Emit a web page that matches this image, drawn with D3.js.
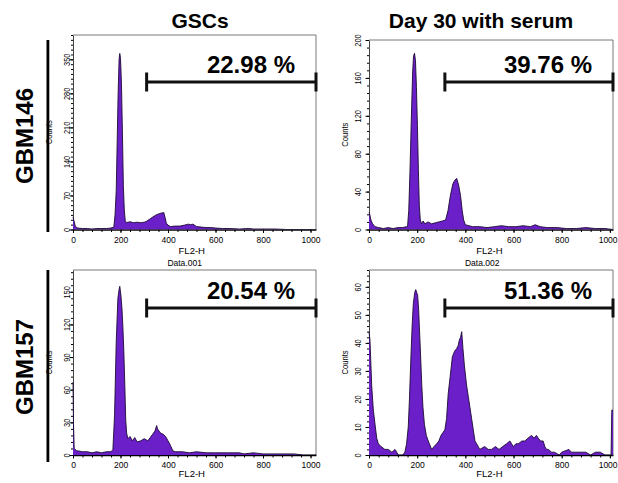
<!DOCTYPE html>
<html>
<head>
<meta charset="utf-8">
<script src="https://cdn.jsdelivr.net/npm/d3@7"></script>
<style>
  body { margin: 0; background: #fff; }
  svg { display: block; font-family: "Liberation Sans", Arial, sans-serif; }
</style>
</head>
<body>
<svg id="chart" width="618" height="483"></svg>
<script>

/////////////////////////////////
// DATA
//////////////////////////////////

var columnTitles = ["GSCs", "Day 30 with serum"];
var rowLabels = ["GBM146", "GBM157"];
var sampleNames = ["Data.001", "Data.002"];
var gatePercents = ["22.98 %", "39.76 %", "20.54 %", "51.36 %"];
var gateStartChannel = [310, 315, 310, 315];

var xTicks = [0, 200, 400, 600, 800, 1000];
var yTicks146Gsc = [0, 70, 140, 210, 280, 350];
var yTicks146Serum = [0, 40, 80, 120, 160, 200];
var yTicks157Gsc = [0, 30, 60, 90, 120, 150];
var yTicks157Serum = [0, 10, 20, 30, 40, 50, 60];
var yMax = [400, 200, 170, 66];

// GBM146 - GSCs
var gbm146GscChannel = [0, 4, 10, 20, 40, 60, 80, 100, 120, 140, 160, 172, 177, 182, 186, 190, 194, 197, 200, 204, 208, 212, 216, 220, 225, 240, 255, 270, 285, 300, 310, 325, 337, 350, 365, 375, 382, 388, 393, 400, 410, 430, 450, 470, 485, 495, 505, 520, 540, 560, 580, 600, 630, 660, 700, 740, 760, 800, 850, 900, 1023];
var gbm146GscCounts = [26, 18, 6, 3, 2, 2, 1, 2, 2, 2, 3, 5, 30, 80, 180, 280, 350, 362, 352, 300, 200, 90, 40, 18, 14, 16, 14, 15, 14, 15, 17, 22, 26, 30, 33, 34, 35, 24, 13, 9, 6, 7, 7, 9, 11, 10, 11, 6, 5, 4, 4, 3, 2, 2, 1, 2, 1, 1, 1, 0, 0];

// GBM146 - Day 30 with serum
var gbm146SerumChannel = [0, 3, 8, 15, 25, 40, 60, 80, 100, 120, 140, 155, 160, 165, 170, 175, 181, 185, 189, 193, 197, 201, 205, 209, 213, 218, 225, 232, 245, 260, 275, 290, 305, 318, 328, 338, 348, 356, 364, 372, 380, 387, 393, 400, 430, 460, 490, 520, 550, 580, 610, 640, 670, 690, 710, 740, 780, 820, 860, 900, 940, 980, 1013];
var gbm146SerumCounts = [18, 16, 10, 6, 3, 2, 1, 2, 1, 2, 2, 3, 3, 20, 60, 110, 165, 183, 186, 178, 150, 110, 63, 25, 10, 6, 9, 6, 8, 6, 7, 8, 9, 10, 20, 36, 48, 52, 54, 47, 36, 20, 10, 5, 3, 3, 2, 3, 4, 3, 3, 4, 3, 5, 3, 2, 2, 1, 1, 2, 1, 1, 0];

// GBM157 - GSCs
var gbm157GscChannel = [0, 2, 5, 15, 40, 60, 80, 100, 120, 140, 160, 168, 175, 182, 189, 194, 197, 202, 206, 210, 214, 218, 222, 226, 231, 240, 250, 260, 270, 285, 300, 315, 325, 335, 345, 352, 356, 362, 370, 380, 390, 400, 410, 420, 430, 460, 490, 520, 560, 600, 650, 700, 720, 760, 800, 850, 880, 930, 970, 1023];
var gbm157GscCounts = [67, 30, 6, 4, 3, 3, 2, 3, 2, 3, 3, 5, 37, 104, 144, 152, 155, 146, 135, 118, 95, 65, 32, 20, 15, 17, 13, 16, 12, 13, 15, 13, 16, 19, 22, 27, 24, 22, 20, 19, 17, 13, 9, 4, 3, 3, 2, 3, 2, 2, 2, 2, 1, 2, 1, 1, 1, 1, 0, 0];

// GBM157 - Day 30 with serum
var gbm157SerumChannel = [0, 4, 8, 11, 18, 25, 32, 39, 50, 66, 80, 95, 108, 115, 122, 140, 149, 156, 163, 168, 174, 179, 184, 190, 194, 198, 202, 206, 209, 214, 219, 224, 230, 238, 246, 260, 270, 281, 290, 299, 307, 315, 322, 329, 337, 346, 355, 364, 370, 375, 380, 385, 390, 396, 405, 412, 419, 426, 433, 440, 447, 460, 480, 495, 509, 525, 540, 555, 571, 585, 592, 599, 610, 620, 635, 647, 660, 675, 685, 695, 703, 712, 723, 730, 737, 745, 758, 770, 790, 800, 830, 840, 860, 880, 900, 920, 940, 960, 980, 1005, 1008, 1013];
var gbm157SerumCounts = [44, 41, 32, 25, 16, 11, 6, 4, 3, 2, 2, 1, 2, 1, 0, 0, 1, 4, 10, 20, 35, 46, 54, 58, 59, 58, 57, 52, 46, 36, 25, 17, 11, 7, 5, 2, 3, 4, 5, 7, 8, 9, 13, 22, 28, 35, 37, 38, 39, 41, 42, 44, 38, 32, 25, 21, 17, 13, 9, 5, 4, 2, 3, 2, 2, 3, 2, 3, 4, 5, 4, 3, 4, 4, 5, 5, 6, 7, 6, 7, 6, 5, 5, 3, 2, 2, 1, 1, 0, 1, 2, 1, 1, 1, 1, 0, 1, 1, 0, 0, 16, 16];


/////////////////////////////////
// LAYOUT
//////////////////////////////////

var svg = d3.select("#chart");

var colLeft = [73, 369];
var colRight = [316, 613];
var colXMax = [1023, 1013];
var rowBase = [229.5, 455];
var rowGateY = [82, 308];
var rowFl2Y = [254, 477];
var colLabelOff = [3.5, 8.5];

var purple = "#6a1fc8";

var panels = [
  {row: 0, col: 0, top: 35, ch: gbm146GscChannel, counts: gbm146GscCounts, yTicks: yTicks146Gsc, minor: 10},
  {row: 0, col: 1, top: 40, ch: gbm146SerumChannel, counts: gbm146SerumCounts, yTicks: yTicks146Serum, minor: 8},
  {row: 1, col: 0, top: 270, ch: gbm157GscChannel, counts: gbm157GscCounts, yTicks: yTicks157Gsc, minor: 6},
  {row: 1, col: 1, top: 270, ch: gbm157SerumChannel, counts: gbm157SerumCounts, yTicks: yTicks157Serum, minor: 2}
];


/////////////////////////////////
// TITLES AND ROW LABELS
//////////////////////////////////

svg.selectAll(".colTitle")
  .data(columnTitles)
  .enter()
  .append("text")
    .attr("class", "colTitle")
    .attr("x", function(d, i) { return [200, 481][i]; })
    .attr("y", 27.5)
    .attr("text-anchor", "middle")
    .attr("font-size", 21)
    .attr("font-weight", "bold")
    .text(function(d) { return d; });

svg.selectAll(".rowLabel")
  .data(rowLabels)
  .enter()
  .append("text")
    .attr("class", "rowLabel")
    .attr("transform", function(d, i) { return "translate(33," + [136, 367][i] + ") rotate(-90)"; })
    .attr("text-anchor", "middle")
    .attr("font-size", 24)
    .attr("font-weight", "bold")
    .text(function(d) { return d; });


/////////////////////////////////
// DRAW EACH HISTOGRAM PANEL
//////////////////////////////////

panels.forEach(function(p, i) {

  var left = colLeft[p.col];
  var right = colRight[p.col];
  var base = rowBase[p.row];

  var x = d3.scaleLinear()
    .domain([0, colXMax[p.col]])
    .range([left, right]);

  var y = d3.scaleLinear()
    .domain([0, yMax[i]])
    .range([base, p.top]);

  var g = svg.append("g").attr("class", "panel");

  g.append("clipPath")
      .attr("id", "clip" + i)
    .append("rect")
      .attr("x", left - 1.5)
      .attr("y", p.top)
      .attr("width", right - left + 1.5)
      .attr("height", base - p.top);

  // frame (top and right edge)
  g.append("path")
    .attr("d", "M" + left + "," + p.top + "H" + right + "V" + base)
    .attr("fill", "none")
    .attr("stroke", "#555")
    .attr("stroke-width", 0.8);

  // y axis
  var yMinor = d3.range(0, yMax[i] + 0.001, p.minor);
  g.append("g")
    .attr("transform", "translate(" + left + ",0)")
    .call(d3.axisLeft(y).tickValues(yMinor).tickSize(2).tickFormat(""))
    .call(function(a) { a.select(".domain").remove(); });

  var yAxis = g.append("g")
    .attr("transform", "translate(" + left + ",0)")
    .call(d3.axisLeft(y).tickValues(p.yTicks).tickSize(3.5).tickSizeOuter(0));

  yAxis.select(".domain").attr("stroke", "#444").attr("stroke-width", 1);

  yAxis.selectAll("text")
    .attr("x", 0)
    .attr("y", -colLabelOff[p.col])
    .attr("dy", null)
    .attr("transform", "rotate(-90) scale(0.82,1)")
    .attr("text-anchor", "middle")
    .attr("font-size", 9);

  // x axis
  g.append("g")
    .attr("transform", "translate(0," + base + ")")
    .call(d3.axisBottom(x).tickValues(d3.range(0, colXMax[p.col], 40)).tickSize(2.5).tickFormat(""))
    .call(function(a) { a.select(".domain").remove(); });

  var xAxis = g.append("g")
    .attr("transform", "translate(0," + base + ")")
    .call(d3.axisBottom(x).tickValues(xTicks).tickFormat(d3.format("d")).tickSize(3.5).tickSizeOuter(0).tickPadding(3));

  xAxis.select(".domain").attr("stroke-width", 1.3);

  xAxis.selectAll("text")
    .attr("font-size", 9.5)
    .attr("transform", "scale(0.9,1)")
    .attr("x", function(d) { return (p.col == 1 && d == 1000) ? -2.5 : 0; });

  // histogram on top of the axes, so the channel-0 spike darkens the axis line
  var points = d3.zip(p.ch, p.counts);

  var area = d3.area()
    .x(function(d) { return x(d[0]); })
    .y0(y(0))
    .y1(function(d) { return y(d[1]); });

  var line = d3.line()
    .x(function(d) { return x(d[0]); })
    .y(function(d) { return y(d[1]); });

  g.append("path")
    .datum(points)
    .attr("clip-path", "url(#clip" + i + ")")
    .attr("fill", purple)
    .attr("d", area);

  g.append("path")
    .datum(points)
    .attr("clip-path", "url(#clip" + i + ")")
    .attr("fill", "none")
    .attr("stroke", "#1c0a33")
    .attr("stroke-width", 0.9)
    .attr("d", line);

  g.append("text")
    .attr("x", x(500))
    .attr("y", rowFl2Y[p.row])
    .attr("text-anchor", "middle")
    .attr("font-size", 9.5)
    .text("FL2-H");

  if (p.row == 0) {
    g.append("text")
      .attr("x", x(470))
      .attr("y", 266)
      .attr("text-anchor", "middle")
      .attr("font-size", 8.5)
      .text(sampleNames[p.col]);
  }

  g.append("text")
    .attr("transform", "translate(" + (left - 21) + "," + ((p.top + base) / 2) + ") rotate(-90) scale(0.85,1)")
    .attr("text-anchor", "middle")
    .attr("font-size", 9)
    .text("Counts");

  // gate marker
  var gy = rowGateY[p.row];
  var gx0 = x(gateStartChannel[i]);
  var gx1 = right;

  g.append("path")
    .attr("d", "M" + gx0 + "," + gy + "H" + gx1 +
               "M" + gx0 + "," + (gy - 9.5) + "V" + (gy + 9.5) +
               "M" + gx1 + "," + (gy - 9.5) + "V" + (gy + 9.5))
    .attr("fill", "none")
    .attr("stroke", "#111")
    .attr("stroke-width", 3);

  g.append("text")
    .attr("x", gx1 - 21)
    .attr("y", gy - 9)
    .attr("text-anchor", "end")
    .attr("font-size", 24)
    .attr("font-weight", "bold")
    .text(gatePercents[i]);

});


/////////////////////////////////
// ROW BARS
//////////////////////////////////

svg.selectAll(".rowBar")
  .data(rowLabels)
  .enter()
  .append("rect")
    .attr("class", "rowBar")
    .attr("x", 46.5)
    .attr("y", function(d, i) { return [40, 270][i]; })
    .attr("width", 2.8)
    .attr("height", 192)
    .attr("fill", "#000");

</script>
</body>
</html>
